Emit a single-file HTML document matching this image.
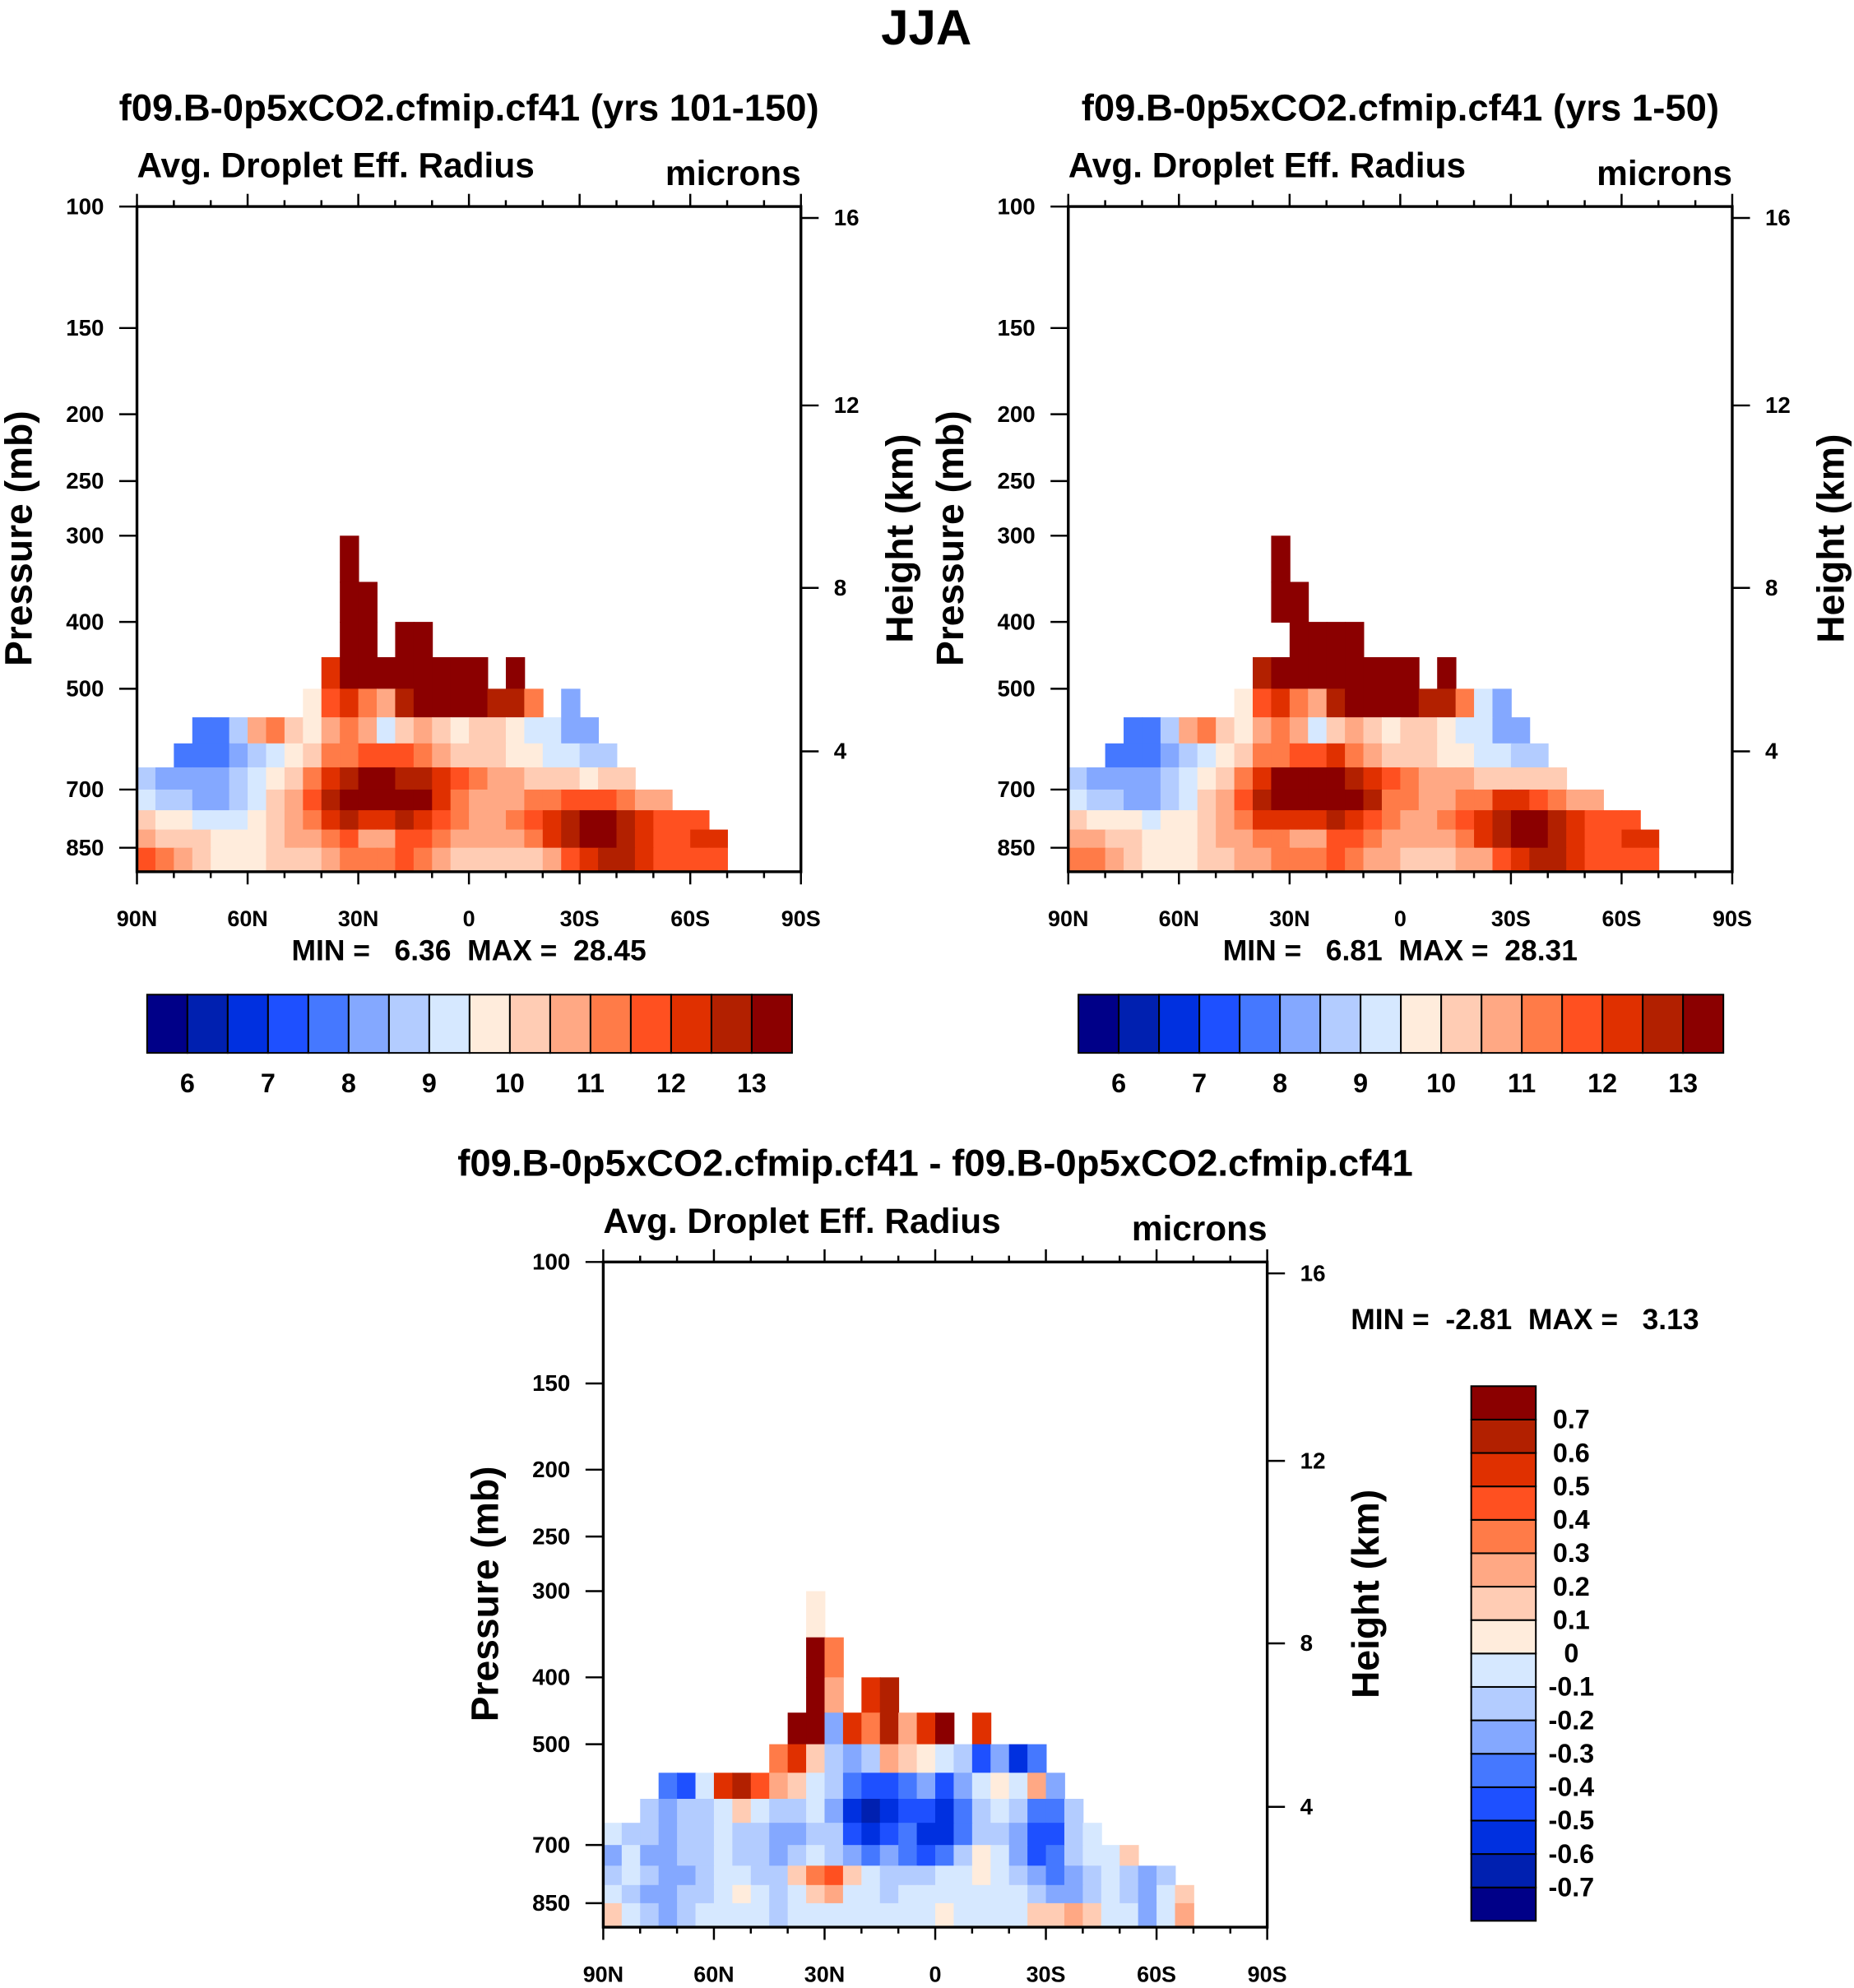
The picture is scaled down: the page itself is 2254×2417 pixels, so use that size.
<!DOCTYPE html>
<html><head><meta charset="utf-8"><style>
html,body{margin:0;padding:0;background:#fff}
svg{display:block}
text{font-family:"Liberation Sans",Arial,sans-serif;font-weight:bold;fill:#000;white-space:pre}
</style></head><body>
<svg id="fig" width="2254" height="2417" viewBox="0 0 1463 1569" xmlns="http://www.w3.org/2000/svg">
<text x="731" y="35" font-size="39" text-anchor="middle">JJA</text>
<g id="root"></g>
</svg>
<script>
// ---- data ----
const pEdges = [300,350,400,450,500,550,600,650,700,750,800,850,918];
const levels = [6,6.5,7,7.5,8,8.5,9,9.5,10,10.5,11,11.5,12,12.5,13];
const levelLabels = ["6","7","8","9","10","11","12","13"];
const diffLevels = [-0.7,-0.6,-0.5,-0.4,-0.3,-0.2,-0.1,0,0.1,0.2,0.3,0.4,0.5,0.6,0.7];
const diffLabels = ["-0.7","-0.6","-0.5","-0.4","-0.3","-0.2","-0.1","0","0.1","0.2","0.3","0.4","0.5","0.6","0.7"];
const latLabels = ["90N","60N","30N","0","30S","60S","90S"];
const pressTicks = [100,150,200,250,300,400,500,700,850];
const heightTicks = [16,12,8,4];
const colors = ["#000088","#0020b0","#0030e0","#1e50ff","#4578ff","#84a8ff","#b3ccff","#d6e8ff","#ffecdc","#ffccb4","#ffa884","#ff7b48","#ff5020","#e03000","#b22000","#8b0000"];
const N=null;
function row(start, vals){const r=new Array(36).fill(N);vals.forEach((v,i)=>r[start+i]=v);return r;}
const p1 = [
 row(11,[20]),
 row(11,[20,20]),
 row(11,[20,20,N,20,20]),
 row(10,[12,20,20,20,20,20,20,20,20,N,20]),
 row(9,[9.6,11.5,12,11,10.5,12.5,14,14,13,13,12.5,12.5,11,N,8]),
 row(3,[7.5,7.5,8.5,10.5,11,10,9.8,10.5,11,10.5,9.3,10,10.5,10.2,9.5,10,10,9.5,9.3,9.2,8.3,8.2]),
 row(2,[7.8,7.5,7.6,8.2,8.8,9.2,9.7,10.2,11,11.2,11.5,11.5,11.8,11.2,10.5,10.2,10,10,9.8,9.6,9.3,9,8.8,8.5]),
 row(0,[8.6,8.3,8.1,8,8.2,8.6,9.2,9.8,10.2,11,12,12.8,13,13.5,12.8,12.5,12,11.5,11,10.8,10.5,10.4,10.2,10,9.8,10,10.2]),
 row(0,[9,8.8,8.5,8.3,8.3,8.6,9.2,10,10.8,11.5,12.5,13.5,13.8,14,13.8,13.5,12.3,11.2,10.8,10.5,10.6,11,11.2,11.8,11.8,11.5,11.2,10.8,10.5]),
 row(0,[10,9.8,9.6,9.4,9.3,9.4,9.7,10.2,10.8,11.2,12,12.5,12.3,12,12.5,12.2,11.5,11,10.8,10.6,11,11.5,12.3,12.8,13.2,13,12.5,12,11.8,11.5,11.5]),
 row(0,[10.6,10.4,10.1,10,9.8,9.6,9.8,10.2,10.5,10.8,11.2,11.5,10.8,10.8,11.5,11.8,11.2,10.8,10.5,10.6,10.8,11.2,12,12.8,13.5,13.5,12.8,12.2,11.8,11.6,12,12.2]),
 row(0,[11.5,11,10.5,10.2,9.8,9.5,9.6,10,10.2,10.4,10.8,11,11.2,11,11.5,11.2,10.8,10.4,10.2,10.1,10.2,10.4,10.8,11.5,12,12.5,12.5,12,11.6,11.5,11.5,11.8])
];
const p2 = [
 row(11,[20]),
 row(11,[20,20]),
 row(12,[20,20,20,20]),
 row(10,[12.5,20,20,20,20,20,20,20,20,N,20]),
 row(9,[9.8,11.8,12.3,11,10.6,12.5,14,14,13,13,12.7,12.5,11,9,8]),
 row(3,[7.5,7.6,8.6,10.6,11,10,9.8,10.5,11,10.6,9.4,10.1,10.5,10.2,9.6,10,10,9.6,9.4,9.2,8.4,8.2]),
 row(2,[7.8,7.6,7.7,8.3,8.9,9.3,9.8,10.3,11.1,11.3,11.7,11.8,12,11.4,10.7,10.4,10.1,10.1,9.9,9.6,9.4,9.1,8.9,8.6]),
 row(0,[8.7,8.4,8.2,8.1,8.3,8.7,9.3,9.9,10.3,11.1,12.2,13,13.2,13.8,13,12.8,12.3,11.8,11.2,10.9,10.6,10.5,10.3,10.2,10,10.1,10.3]),
 row(0,[9.2,8.9,8.6,8.4,8.4,8.7,9.3,10.1,10.9,11.6,12.6,13.6,13.9,14,13.9,13.6,12.5,11.4,11,10.6,10.6,11.1,11.3,12,12,11.6,11.3,10.9,10.5]),
 row(0,[10.1,9.9,9.7,9.5,9.4,9.5,9.8,10.3,10.9,11.3,12.1,12.4,12.2,12,12.6,12.3,11.6,11.1,10.9,10.7,11,11.6,12.4,12.9,13.3,13.1,12.6,12.1,11.9,11.6,11.6]),
 row(0,[10.7,10.5,10.2,10.1,9.9,9.7,9.9,10.3,10.6,10.9,11.3,11.3,10.7,10.9,11.6,11.9,11.3,10.9,10.6,10.7,10.9,11.3,12.1,12.9,13.6,13.6,12.9,12.3,11.9,11.7,12,12.2]),
 row(0,[11.4,11,10.6,10.3,9.9,9.6,9.7,10.1,10.3,10.5,10.9,11,11.2,11.1,11.6,11.3,10.9,10.5,10.3,10.2,10.3,10.5,10.9,11.5,12,12.5,12.5,12.1,11.7,11.5,11.5,11.8])
];
const pd = [
 row(11,[0.05]),
 row(11,[0.8,0.3]),
 row(11,[0.8,0.2,N,0.5,0.6]),
 row(10,[0.8,0.8,-0.3,0.5,0.3,0.6,0.2,0.5,0.8,N,0.5]),
 row(9,[0.3,0.5,0.1,-0.2,-0.3,-0.2,0.2,0.1,0.05,-0.1,-0.2,-0.5,-0.3,-0.6,-0.4]),
 row(3,[-0.4,-0.5,-0.1,0.5,0.6,0.4,0.2,0.1,-0.1,-0.2,-0.4,-0.5,-0.5,-0.4,-0.3,-0.5,-0.3,-0.1,0.05,-0.05,0.2,-0.3]),
 row(2,[-0.2,-0.3,-0.2,-0.15,-0.05,0.1,-0.1,-0.2,-0.15,-0.1,-0.25,-0.55,-0.65,-0.6,-0.45,-0.5,-0.6,-0.4,-0.15,-0.1,-0.2,-0.4,-0.35,-0.2]),
 row(0,[-0.1,-0.15,-0.2,-0.25,-0.2,-0.15,-0.1,-0.2,-0.15,-0.25,-0.3,-0.2,-0.2,-0.5,-0.6,-0.5,-0.4,-0.55,-0.6,-0.35,-0.15,-0.2,-0.3,-0.5,-0.45,-0.2,-0.1]),
 row(0,[-0.3,-0.1,-0.25,-0.25,-0.2,-0.15,-0.1,-0.15,-0.2,-0.3,-0.2,-0.1,-0.15,-0.3,-0.35,-0.3,-0.35,-0.5,-0.4,-0.2,0.05,-0.1,-0.3,-0.45,-0.4,-0.2,-0.1,-0.05,0.1]),
 row(0,[-0.15,-0.1,-0.2,-0.25,-0.25,-0.2,-0.1,-0.1,-0.15,-0.2,0.1,0.3,0.4,0.1,-0.1,-0.2,-0.15,-0.2,-0.1,-0.05,0.05,-0.1,-0.15,-0.3,-0.4,-0.3,-0.2,-0.1,-0.15,-0.3,-0.2]),
 row(0,[-0.1,-0.15,-0.25,-0.25,-0.2,-0.15,-0.1,0.05,-0.1,-0.15,-0.05,0.1,0.2,-0.05,-0.1,-0.15,-0.1,-0.1,-0.05,-0.05,-0.05,-0.1,-0.1,-0.15,-0.25,-0.3,-0.2,-0.1,-0.15,-0.3,-0.1,0.1]),
 row(0,[0.1,-0.05,-0.2,-0.25,-0.2,-0.1,-0.05,-0.05,-0.1,-0.15,-0.05,-0.1,-0.05,-0.05,-0.1,-0.05,-0.1,-0.05,0.05,-0.05,-0.05,-0.1,-0.05,0.1,0.15,0.2,0.15,-0.05,-0.1,-0.3,-0.1,0.2])
];
// ---- drawing ----
const NS="http://www.w3.org/2000/svg";
const root=document.getElementById('root');
function el(tag,attrs,parent,txt){const e=document.createElementNS(NS,tag);for(const k in attrs)e.setAttribute(k,attrs[k]);if(txt!==undefined)e.textContent=txt;(parent||root).appendChild(e);return e;}
function levelIndex(v,lv){let i=0;while(i<lv.length&&v>=lv[i])i++;return i;}
function panel(x0,y0,data,lv,title,name,minmax){
  const W=524,H=525;
  const g=el('g',{});  
  const yP=p=>y0+(Math.log10(p)-2)*544.5;
  const xL=lat=>x0+(90-lat)/180*W;
  data.forEach((r,ri)=>{r.forEach((v,ci)=>{ if(v===null)return;
    const xa=xL(90-5*ci), xb=xL(85-5*ci);
    const ya=yP(pEdges[ri]), yb=Math.min(yP(pEdges[ri+1]),y0+H);
    const c=el('rect',{x:xa,y:ya,width:xb-xa+0.6,height:yb-ya+0.6,fill:colors[levelIndex(v,lv)]},g);
    
    
  });});
  const f=el('rect',{x:x0,y:y0,width:W,height:H,fill:'none',stroke:'#000','stroke-width':2.2},g);
   
  for(let lat=90;lat>=-90;lat-=10){const x=xL(lat);const maj=lat%30===0;const L=maj?10:5;
    el('line',{x1:x,y1:y0,x2:x,y2:y0-L,stroke:'#000','stroke-width':1.6},g);
    el('line',{x1:x,y1:y0+H,x2:x,y2:y0+H+L,stroke:'#000','stroke-width':1.6},g);}
  latLabels.forEach((t,i)=>{const tl=el('text',{x:xL(90-30*i),y:y0+H+43,'font-size':17.5,'text-anchor':'middle'},g,t);
     });
  pressTicks.forEach(p=>{const y=yP(p);el('line',{x1:x0-14,y1:y,x2:x0,y2:y,stroke:'#000','stroke-width':1.6},g);
    const tl=el('text',{x:x0-26,y:y+6,'font-size':18,'text-anchor':'end'},g,String(p));
     });
  const hy={16:9,12:157,8:301,4:430};
  heightTicks.forEach(h=>{const y=y0+hy[h];el('line',{x1:x0+W,y1:y,x2:x0+W+14,y2:y,stroke:'#000','stroke-width':1.6},g);
    const tl=el('text',{x:x0+W+26,y:y+6,'font-size':18},g,String(h));
     });
  const t=el('text',{x:x0+262,y:y0-68,'font-size':29.5,'text-anchor':'middle'},g,title);
   
  const s=el('text',{x:x0,y:y0-23,'font-size':27.5},g,'Avg. Droplet Eff. Radius');
   
  const u=el('text',{x:x0+W,y:y0-17,'font-size':27.5,'text-anchor':'end'},g,'microns');
   
  const ya=el('text',{transform:`translate(${x0-83},${y0+262}) rotate(-90)`,'font-size':30,'text-anchor':'middle'},g,'Pressure (mb)');
   
  const yb=el('text',{transform:`translate(${x0+W+88},${y0+262}) rotate(-90)`,'font-size':30,'text-anchor':'middle'},g,'Height (km)');
   
  if(minmax){const m=el('text',{x:x0+262,y:y0+H+70,'font-size':23,'text-anchor':'middle'},g,minmax);
     }
}
function hbar(x0,y0,name){
  const g=el('g',{});  
  const w=509/16;
  colors.forEach((c,i)=>{const r=el('rect',{x:x0+i*w,y:y0,width:w,height:46,fill:c,stroke:'#000','stroke-width':1.3},g);
     });
  levelLabels.forEach((t,i)=>{const l=el('text',{x:x0+(1+2*i)*w,y:y0+77,'font-size':21,'text-anchor':'middle'},g,t);
     });
}
panel(108,163,p1,levels,'f09.B-0p5xCO2.cfmip.cf41 (yrs 101-150)','panel-yrs-101-150','MIN =   6.36  MAX =  28.45');
panel(843,163,p2,levels,'f09.B-0p5xCO2.cfmip.cf41 (yrs 1-50)','panel-yrs-1-50','MIN =   6.81  MAX =  28.31');
panel(476,996,pd,diffLevels,'f09.B-0p5xCO2.cfmip.cf41 - f09.B-0p5xCO2.cfmip.cf41','panel-difference',null);
hbar(116,785,'colorbar-panel-1');
hbar(851,785,'colorbar-panel-2');
const mm=el('text',{x:1066,y:1049,'font-size':23},null,'MIN =  -2.81  MAX =   3.13');
 
const vb=el('g',{});  
const bh=422/16;
colors.forEach((c,i)=>{const r=el('rect',{x:1161,y:1094+(15-i)*bh,width:51,height:bh,fill:c,stroke:'#000','stroke-width':1.3},vb);
   });
diffLabels.forEach((t,i)=>{const l=el('text',{x:1240,y:1094+(15-i)*bh+7,'font-size':21,'text-anchor':'middle'},vb,t);
   });
</script>
</body></html>
